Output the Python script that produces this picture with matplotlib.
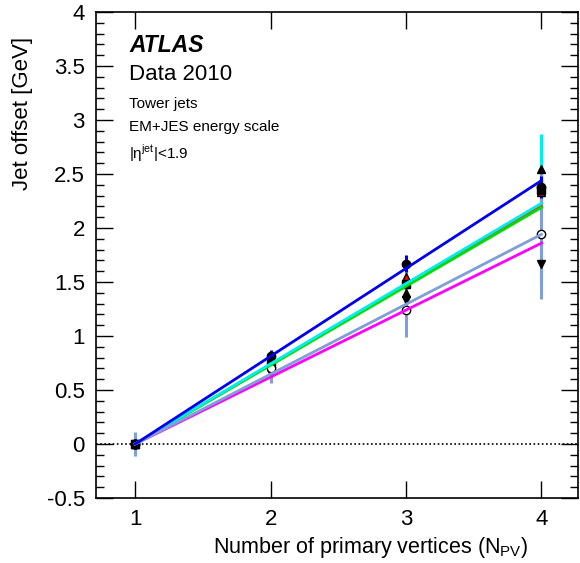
import matplotlib
matplotlib.use("Agg")
import matplotlib.pyplot as plt
import numpy as np
from matplotlib.ticker import MultipleLocator, FuncFormatter

plt.rcParams['font.family'] = ['Liberation Sans', 'DejaVu Sans']
plt.rcParams['mathtext.fontset'] = 'custom'
plt.rcParams['mathtext.rm'] = 'Liberation Sans'

npv = [1, 2, 3, 4]

# offset per series (GeV) and their errors
off_blue = [0.0, 0.81, 1.67, 2.38]
off_green = [0.0, 0.72, 1.40, 2.55]
off_cyan = [0.0, 0.74, 1.48, 2.35]
off_red = [0.0, 0.73, 1.55, 2.33]
off_steel = [0.0, 0.70, 1.24, 1.94]
off_magenta = [0.0, 0.66, 1.33, 1.67]

err_blue = [0.05, 0.06, 0.08, 0.10]
err_green = [0.05, 0.06, 0.10, 0.12]
err_cyan = [0.08, 0.10, 0.25, 0.52]
err_red = [0.05, 0.06, 0.10, 0.15]
err_steel = [0.11, 0.14, 0.25, 0.60]
err_magenta = [0.05, 0.08, 0.12, 0.20]

# fitted slopes (GeV per extra vertex)
slopes = [0.813, 0.730, 0.743, 0.735, 0.647, 0.620]

# drawing order: red first so it hides behind green/cyan like the original
series = [
    (off_red, err_red, slopes[3], '#ff3030', '^', 'red', 'black'),
    (off_magenta, err_magenta, slopes[5], '#ff00ff', 'v', 'black', 'black'),
    (off_green, err_green, slopes[1], '#00dd00', '^', 'black', 'black'),
    (off_cyan, err_cyan, slopes[2], '#00eeee', 's', 'black', 'black'),
    (off_steel, err_steel, slopes[4], '#7f9fd6', 'o', 'white', 'black'),
    (off_blue, err_blue, slopes[0], '#0000ee', 'o', 'black', 'black'),
]

fig = plt.figure(figsize=(5.8, 5.63), dpi=100)
ax = fig.add_axes([0.1655, 0.1155, 0.8311, 0.8632])

ax.axhline(0, color='black', ls=(0, (1, 1.5)), lw=1.2, zorder=1)

x = np.array(npv, dtype=float)
for off, err, k, col, mk, fc, ec in series:
    ax.errorbar(x, off, yerr=err, fmt='none', ecolor=col, elinewidth=2.2, capsize=0, zorder=2)
for off, err, k, col, mk, fc, ec in series:
    ax.plot(x, off, ls='none', marker=mk, ms=6, mfc=fc, mec=ec, mew=1, zorder=3)
for off, err, k, col, mk, fc, ec in series:
    ax.plot([x[0], x[-1]], [0, k * (x[-1] - x[0])], color=col, lw=2, zorder=4)

ax.set_xlim(0.71, 4.27)
ax.set_ylim(-0.5, 4.0)
ax.xaxis.set_major_locator(MultipleLocator(1))
ax.yaxis.set_major_locator(MultipleLocator(0.5))
ax.yaxis.set_minor_locator(MultipleLocator(0.1))
fmt = FuncFormatter(lambda v, p: '%g' % v)
ax.xaxis.set_major_formatter(fmt)
ax.yaxis.set_major_formatter(fmt)
ax.tick_params(which='both', direction='in', top=True, right=True, labelsize=16, width=1)
ax.tick_params(which='major', length=12, pad=8)
ax.tick_params(which='minor', length=6)
for s in ax.spines.values():
    s.set_linewidth(1.2)

fig.text(528 / 580, 1 - 548 / 563, 'Number of primary vertices (N$_{\\rm PV}$)',
         ha='right', va='center', fontsize=15.5)
fig.text(23 / 580, 1 - 37 / 563, 'Jet offset [GeV]', rotation=90,
         ha='center', va='top', fontsize=16)

fig.text(129 / 580, 1 - 46 / 563, 'ATLAS', fontsize=16.5, fontweight='bold',
         fontstyle='italic', va='center')
fig.text(129 / 580, 1 - 74 / 563, 'Data 2010', fontsize=16, va='center')
fig.text(129 / 580, 1 - 104 / 563, 'Tower jets', fontsize=11, va='center')
fig.text(129 / 580, 1 - 127 / 563, 'EM+JES energy scale', fontsize=11, va='center')
fig.text(129 / 580, 1 - 153 / 563, '|\u03b7$^{\\rm jet}$|<1.9', fontsize=11, va='center')

fig.savefig('out.png', dpi=100)
